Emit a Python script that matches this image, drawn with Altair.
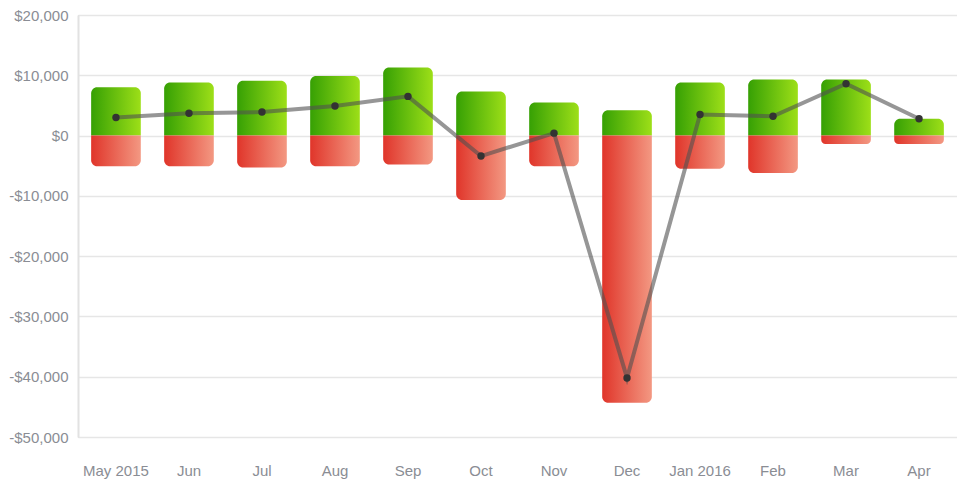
import altair as alt
import pandas as pd

months = ["May 2015", "Jun", "Jul", "Aug", "Sep", "Oct", "Nov", "Dec", "Jan 2016", "Feb", "Mar", "Apr"]
income = [8000, 8800, 9100, 9900, 11300, 7300, 5500, 4200, 8800, 9300, 9300, 2800]
expense = [-5100, -5100, -5300, -5100, -4800, -10700, -5100, -44300, -5500, -6200, -1400, -1400]
net = [3000, 3700, 3900, 4900, 6500, -3400, 400, -40200, 3500, 3200, 8600, 2800]

df = pd.DataFrame({"month": months, "income": income, "expense": expense, "net": net, "zero": [0] * 12})

xenc = alt.X("month:N", sort=months, title=None,
             scale=alt.Scale(paddingInner=0.32, paddingOuter=0.18),
             axis=alt.Axis(labelAngle=0, ticks=False, domain=False, labelPadding=26,
                           labelFont="Liberation Sans", labelFontSize=15, labelColor="#8a8d94"))
yscale = alt.Scale(domain=[-50000, 20000], nice=False)
yaxis = alt.Axis(values=list(range(-50000, 20001, 10000)), ticks=False, labelPadding=10,
                 labelExpr="(datum.value < 0 ? '-' : '') + '$' + format(abs(datum.value), ',')",
                 labelFont="Liberation Sans", labelFontSize=15, labelColor="#8a8d94",
                 gridColor="#e6e6e6", gridWidth=1.5, domainColor="#e2e2e2", domainWidth=2)

green = alt.Gradient(gradient="linear", x1=0, x2=1, y1=0, y2=0,
                     stops=[alt.GradientStop(offset=0, color="#36a004"),
                            alt.GradientStop(offset=1, color="#9ddf18")])
red = alt.Gradient(gradient="linear", x1=0, x2=1, y1=0, y2=0,
                   stops=[alt.GradientStop(offset=0, color="#e0352a"),
                          alt.GradientStop(offset=1, color="#f39882")])

base = alt.Chart(df)

inc = base.mark_bar(color=green, cornerRadiusTopLeft=6, cornerRadiusTopRight=6).encode(
    x=xenc,
    y=alt.Y("income:Q", scale=yscale, axis=yaxis, title=None),
    y2="zero:Q",
)
exp = base.mark_bar(color=red, cornerRadiusBottomLeft=6, cornerRadiusBottomRight=6).encode(
    x=xenc,
    y=alt.Y("zero:Q", scale=yscale, axis=yaxis, title=None),
    y2="expense:Q",
)
line = base.mark_line(color="#505050", opacity=0.6, strokeWidth=4).encode(
    x=xenc,
    y=alt.Y("net:Q", scale=yscale, axis=yaxis, title=None),
)
pts = base.mark_point(filled=True, color="#333333", opacity=1, size=55).encode(
    x=xenc,
    y=alt.Y("net:Q", scale=yscale, axis=yaxis, title=None),
)

chart = alt.layer(inc, exp, line, pts).properties(
    width=879, height=422,
    padding={"left": 0, "top": 0, "right": 0, "bottom": 5},
).configure_view(stroke=None).configure(background="white")

chart.save("out.html", embed_options={"renderer": "svg", "actions": False})
